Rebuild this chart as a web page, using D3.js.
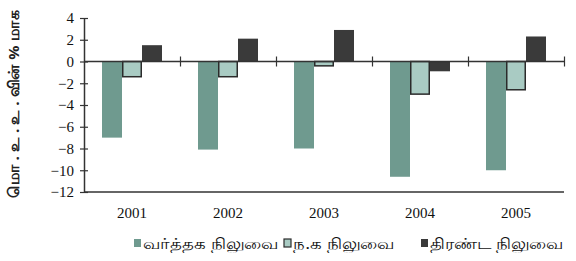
<!DOCTYPE html>
<html>
<head>
<meta charset="utf-8">
<script src="https://cdn.jsdelivr.net/npm/d3@7"></script>
<style>
  body { margin: 0; background: #fff; }
  svg { display: block; }
</style>
</head>
<body>
<div id="chart"></div>
<script>
// années et séries (en % du PIB)
const years = ["2001", "2002", "2003", "2004", "2005"]
const tradeBalance = [-7.0, -8.1, -8.0, -10.6, -10.0]
const currentAccount = [-1.4, -1.4, -0.4, -3.0, -2.6]
const overallBalance = [1.5, 2.1, 2.9, -0.9, 2.3]
const seriesNames = ["வர்த்தக நிலுவை", "ந.க நிலுவை", "திரண்ட நிலுவை"]
const yTicks = [4, 2, 0, -2, -4, -6, -8, -10, -12]
const yTitle = "மொ . உ . உ . வின்  %  மாக"

const width = 576, height = 261
const margin = { top: 18, right: 12, bottom: 69, left: 84 }

const svg = d3.select("#chart")
    .append("svg")
    .attr("width", width)
    .attr("height", height)

const x = d3.scaleBand()
    .domain(years)
    .range([margin.left, width - margin.right])
    .paddingInner(0.375)
    .paddingOuter(0.1875)

const y = d3.scaleLinear()
    .domain([-12, 4])
    .range([height - margin.bottom, margin.top])

const series = [
    { name: seriesNames[0], values: tradeBalance, fill: "#6f9a8f", stroke: "none" },
    { name: seriesNames[1], values: currentAccount, fill: "#a9cbc3", stroke: "#2b2b2b" },
    { name: seriesNames[2], values: overallBalance, fill: "#3a3a3a", stroke: "none" }
]

const x1 = d3.scaleBand()
    .domain(d3.range(series.length))
    .range([0, x.bandwidth()])

// barres
series.forEach((s, i) => {
    svg.append("g")
        .selectAll("rect")
        .data(s.values)
        .join("rect")
        .attr("x", (d, j) => x(years[j]) + x1(i) + (s.stroke !== "none" ? 0.75 : 0))
        .attr("y", d => y(Math.max(0, d)))
        .attr("width", x1.bandwidth() - (s.stroke !== "none" ? 1.5 : 0))
        .attr("height", d => Math.abs(y(d) - y(0)))
        .attr("fill", s.fill)
        .attr("stroke", s.stroke)
        .attr("stroke-width", 1.5)
})

// axe Y
const yAxis = svg.append("g")
    .attr("transform", `translate(${margin.left},0)`)
    .call(d3.axisLeft(y).tickValues(yTicks).tickSize(0).tickPadding(10))
yAxis.select(".domain").attr("stroke", "#333").attr("stroke-width", 1.5)
yAxis.selectAll(".tick line").remove()
yAxis.selectAll(".tick").append("line")
    .attr("x1", -4).attr("x2", 4)
    .attr("stroke", "#333").attr("stroke-width", 1.2)
yAxis.selectAll("text")
    .attr("font-family", "Liberation Serif")
    .attr("font-size", 15)
    .attr("fill", "#111")

// axe X à zéro
const xZero = svg.append("g")
    .attr("transform", `translate(0,${y(0)})`)
xZero.append("line")
    .attr("x1", margin.left).attr("x2", width - margin.right)
    .attr("stroke", "#333").attr("stroke-width", 1.5)
xZero.selectAll(".cat")
    .data(years)
    .join("line")
    .attr("class", "cat")
    .attr("x1", d => x(d) + x.bandwidth() + x.step() * 0.1875 + 0.5)
    .attr("x2", d => x(d) + x.bandwidth() + x.step() * 0.1875 + 0.5)
    .attr("y1", -5).attr("y2", 5)
    .attr("stroke", "#333").attr("stroke-width", 1.2)

// ligne du bas
svg.append("line")
    .attr("x1", margin.left).attr("x2", width - margin.right)
    .attr("y1", y(-12)).attr("y2", y(-12))
    .attr("stroke", "#333").attr("stroke-width", 1.5)

// étiquettes des années
svg.append("g")
    .selectAll("text")
    .data(years)
    .join("text")
    .attr("x", d => x(d) + x.bandwidth() / 2)
    .attr("y", 218)
    .attr("text-anchor", "middle")
    .attr("font-family", "Liberation Serif")
    .attr("font-size", 15)
    .attr("fill", "#111")
    .text(d => d)

// titre Y
svg.append("text")
    .attr("transform", `translate(19,104) rotate(-90)`)
    .attr("text-anchor", "middle")
    .attr("font-family", "Noto Sans")
    .attr("font-size", 15)
    .attr("font-weight", "bold")
    .attr("fill", "#222")
    .attr("textLength", 188)
    .attr("lengthAdjust", "spacingAndGlyphs")
    .text(yTitle)

// légende
const legendX = [134, 284, 421]
const legendLen = [135, 101, 133]
const legend = svg.append("g")
series.forEach((s, i) => {
    legend.append("rect")
        .attr("x", legendX[i])
        .attr("y", 239)
        .attr("width", 7)
        .attr("height", 8)
        .attr("fill", s.fill)
        .attr("stroke", s.stroke)
        .attr("stroke-width", 1.2)
    legend.append("text")
        .attr("x", legendX[i] + 9)
        .attr("y", 249)
        .attr("font-family", "Noto Sans")
        .attr("font-size", 15)
        .attr("fill", "#111")
        .attr("textLength", legendLen[i])
        .attr("lengthAdjust", "spacingAndGlyphs")
        .text(s.name)
})
</script>
</body>
</html>
